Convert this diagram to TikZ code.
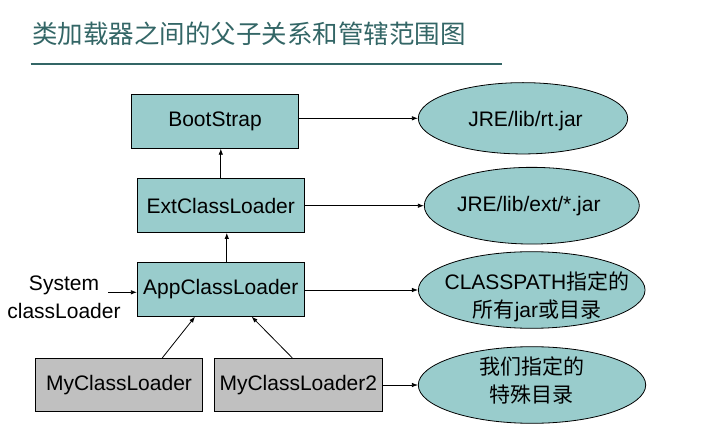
\documentclass[tikz,border=0pt]{standalone}
\usepackage{fontspec}
\setmainfont{Liberation Sans}
\newfontfamily\cjk{Noto Sans CJK SC}
\usetikzlibrary{shapes.geometric,arrows.meta}
\definecolor{boxteal}{HTML}{99CCCC}
\definecolor{boxgrey}{HTML}{C0C0C0}
\definecolor{titlecol}{HTML}{336666}
\begin{document}
\begin{tikzpicture}[x=1pt,y=-1pt,
  font=\fontsize{21}{28}\selectfont,
  loader/.style={draw=black, line width=0.8pt, fill=boxteal, inner sep=0pt, minimum height=54pt},
  custom/.style={loader, fill=boxgrey},
  scopeell/.style={ellipse, draw=black, line width=0.8pt, fill=boxteal, inner sep=0pt},
  txt/.style={align=center, inner sep=0pt},
  arr/.style={line width=0.8pt, -{Latex[length=6pt,width=4.5pt]}}]
\useasboundingbox (0,0) rectangle (709,430);

% title
\node[anchor=west, inner sep=0pt, text=titlecol, font=\cjk\fontsize{25.5}{30}\selectfont] (title) at (32,34) {类加载器之间的父子关系和管辖范围图};
\coordinate (ulA) at (30.7,64);
\coordinate (ulB) at (501.7,64);
\draw[titlecol, line width=2.7pt] (ulA) -- (ulB);

% loader boxes
\node[loader, minimum width=166.6pt] (boot) at (215,121.3) {BootStrap};
\node[loader, minimum width=167pt] (ext) at (220.8,205.5) {ExtClassLoader};
\node[loader, minimum width=167pt] (app) at (220.8,289.3) {AppClassLoader};
\node[custom, minimum width=166.6pt, minimum height=53pt] (my1) at (119,384.8) {MyClassLoader};
\node[custom, minimum width=168pt, minimum height=53pt] (my2) at (298.3,384.8) {MyClassLoader2};

% scope ellipses
\node[scopeell, minimum width=209.4pt, minimum height=71.3pt] (e1) at (523,118.3) {};
\node[scopeell, minimum width=215pt, minimum height=76.7pt] (e2) at (531.8,205.7) {};
\node[scopeell, minimum width=226.7pt, minimum height=76.6pt] (e3) at (531.7,290) {};
\node[scopeell, minimum width=227.4pt, minimum height=76.6pt] (e4) at (532,385) {};
\node[txt] (t1) at (525.5,121.5) {JRE/lib/rt.jar};
\node[txt] (t2) at (528.8,206) {JRE/lib/ext/*.jar};
\node[txt] (t3) at (537,297) {CLASSPATH{\cjk 指定的}\\{\cjk 所有}jar{\cjk 或目录}};
\node[txt] (t4) at (531.5,380) {\cjk 我们指定的\\\cjk 特殊目录};

% system classloader label
\node[txt] (sys) at (64,297) {System\\classLoader};
\coordinate (sysc) at (108.3,292.3);
\draw[arr] (sysc) -- (sysc -| app.west);

% parent arrows
\draw[arr] (ext.north) -- (ext.north |- boot.south);
\draw[arr] ([xshift=6pt]app.north) -- ([xshift=6pt]ext.south);
\draw[arr] ([xshift=43.3pt]my1.north) -- ([xshift=-25.8pt]app.south);
\draw[arr] ([xshift=-6pt]my2.north) -- ([xshift=30.9pt]app.south);

% scope arrows
\draw[arr] (boot.east |- e1.west) -- (e1.west);
\draw[arr] (ext.east |- e2.west) -- (e2.west);
\draw[arr] (app.east |- e3.west) -- (e3.west);
\draw[arr] (my2.east |- e4.west) -- (e4.west);
\end{tikzpicture}
\end{document}
